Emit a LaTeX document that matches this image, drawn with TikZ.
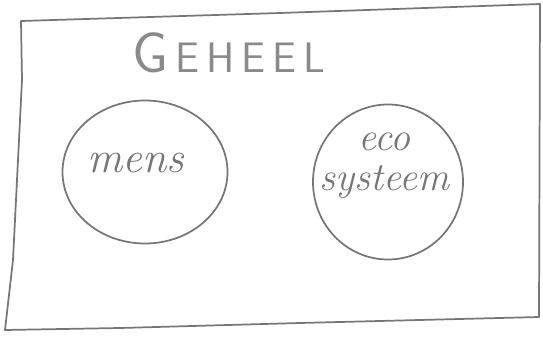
\documentclass[tikz,border=0pt]{standalone}
\usepackage{tikz}
\usetikzlibrary{shapes.geometric}
\definecolor{pencilcolor}{RGB}{118,118,118}

\begin{document}
\begin{tikzpicture}[x=0.75pt, y=-0.75pt, font=\itshape]
    % Define the styles for the pencil lines and the written words
    \tikzstyle{pencil} = [draw=pencilcolor, line width=1.3pt, line join=round, line cap=round]
    \tikzstyle{part} = [pencil, ellipse, inner sep=0pt]
    \tikzstyle{word} = [text=pencilcolor, font=\fontsize{30}{32}\selectfont\itshape, inner sep=0pt]

    \useasboundingbox (0,0) rectangle (543,336);

    % The whole (hand drawn frame)
    \draw[pencil] (21,21) -- (280,13) -- (540,4) -- (539,317) -- (300,323)
        -- (120,328) -- (5,330) -- (13,260) -- (22,80) -- cycle;

    % Title of the whole
    \node[text=pencilcolor!85, inner sep=0pt] (geheel) at (229,53)
        {\upshape\sffamily\fontsize{43}{46}\selectfont G\fontsize{32}{34}\selectfont\,E\,H\,E\,E\,L};

    % Part on the left: human
    \node[part, minimum width=165*0.75pt, minimum height=143*0.75pt] (mens) at (145,172) {};
    \node[word, font=\fontsize{33}{35}\selectfont\itshape] (menstext) at (136,163) {mens};

    % Part on the right: ecosystem
    \node[part, minimum width=150*0.75pt, minimum height=155*0.75pt] (eco) at (388,182) {};
    \node[word] (ecotext) at (384,142) {eco};
    \node[word] (systeemtext) at (384,182) {systeem};
\end{tikzpicture}
\end{document}
